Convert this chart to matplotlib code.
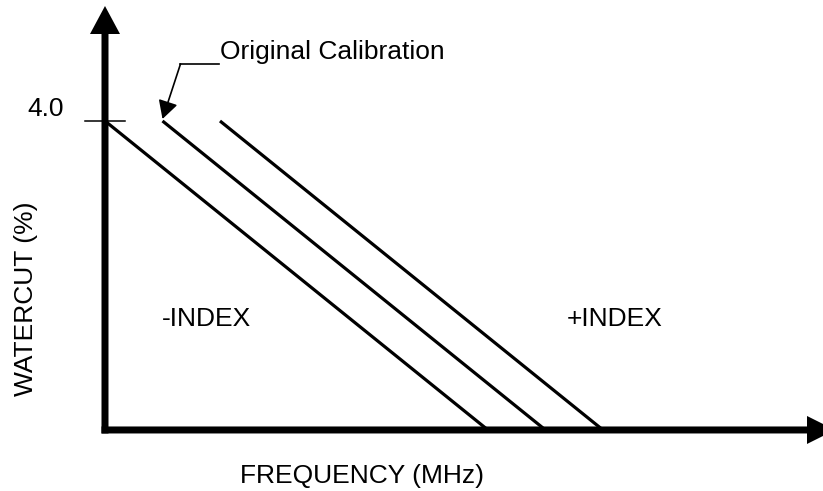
import matplotlib
matplotlib.use("Agg")
import matplotlib.pyplot as plt

plt.rcParams["font.family"] = ["Liberation Sans", "DejaVu Sans"]

# calibration lines: frequency where each line starts (at 4.0 %) and ends (at 0 %)
line_names = ["-INDEX", "Original Calibration", "+INDEX"]
freq_top = [0.0, 1.0, 2.0]
freq_bottom = [6.66, 7.66, 8.66]
watercut_top = 4.0
watercut_bottom = 0.0

x_min, x_max = -1.826, 12.487
y_min, y_max = -0.790, 5.566

fig = plt.figure(figsize=(8.23, 4.91), dpi=100)
ax = fig.add_axes([0, 0, 1, 1])
ax.set_xlim(x_min, x_max)
ax.set_ylim(y_min, y_max)
ax.axis("off")

# pixel sizes in data units
px_x = (x_max - x_min) / 823
px_y = (y_max - y_min) / 491

# axes with arrow heads
ax.arrow(0, -3.5 * px_y, 0, y_max - 6 * px_y + 3.5 * px_y,
         width=7 * px_x, head_width=30 * px_x, head_length=28 * px_y,
         length_includes_head=True, fc="black", ec="none")
ax.arrow(-3.5 * px_x, 0, x_max + 12 * px_x + 3.5 * px_x, 0,
         width=7 * px_y, head_width=28 * px_y, head_length=28 * px_x,
         length_includes_head=True, fc="black", ec="none", clip_on=False)

# the three calibration lines
for x0, x1 in zip(freq_top, freq_bottom):
    ax.plot([x0, x1], [watercut_top, watercut_bottom], color="black",
            linewidth=2.3, solid_capstyle="butt")

# tick and label for 4.0
ax.plot([-20 * px_x, 20 * px_x], [watercut_top, watercut_top],
        color="black", linewidth=1.1)
ax.text(-41 * px_x, watercut_top + 12 * px_y, "4.0", fontsize=19,
        ha="right", va="center")

# leader to the original calibration line
corner_x = freq_top[1] + 18 * px_x
corner_y = watercut_top + 57 * px_y
ax.plot([corner_x, freq_top[2] - 1 * px_x], [corner_y, corner_y],
        color="black", linewidth=1.2)
ax.annotate("", xy=(freq_top[1], watercut_top + 2 * px_y),
            xytext=(corner_x, corner_y),
            arrowprops=dict(arrowstyle="-|>,head_length=1.1,head_width=0.6",
                            mutation_scale=10, color="black", lw=1.2,
                            shrinkA=0, shrinkB=0))
ax.text(freq_top[2], watercut_top + 62 * px_y, line_names[1], fontsize=19,
        ha="left", va="baseline")

# region labels
ax.text(freq_top[1] - 1 * px_x, 1.437, line_names[0], fontsize=19,
        ha="left", va="center")
ax.text(8.03, 1.437, line_names[2], fontsize=19, ha="left", va="center")

# axis titles
ax.text(2.35, -53 * px_y, "FREQUENCY (MHz)", fontsize=19,
        ha="left", va="baseline")
ax.text(-79 * px_x, 1.696, "WATERCUT (%)", fontsize=19, rotation=90,
        ha="center", va="center")

fig.savefig("out.png", dpi=100)
